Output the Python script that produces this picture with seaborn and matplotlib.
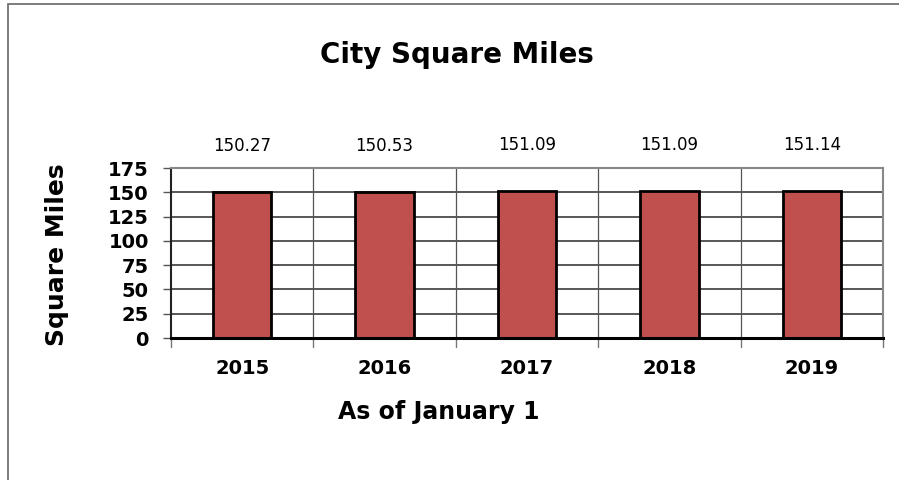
import matplotlib
matplotlib.use("Agg")
import matplotlib.pyplot as plt
import seaborn as sns
import pandas as pd
from matplotlib.patches import Rectangle

years = ["2015", "2016", "2017", "2018", "2019"]
square_miles = [150.27, 150.53, 151.09, 151.09, 151.14]
value_labels = ["150.27", "150.53", "151.09", "151.09", "151.14"]
y_ticks = [0, 25, 50, 75, 100, 125, 150, 175]

sns.set_theme(style="white")
plt.rcParams["font.family"] = ["DejaVu Sans"]
plt.rcParams.update({"text.color": "black", "axes.labelcolor": "black",
                     "xtick.color": "black", "ytick.color": "black",
                     "xtick.labelcolor": "black", "ytick.labelcolor": "black"})

df = pd.DataFrame({"year": years, "miles": square_miles})

fig = plt.figure(figsize=(8.99, 4.80), dpi=100)
ax = fig.add_axes([171 / 899, 1 - 338 / 480, (883 - 171) / 899, (338 - 168) / 480])

sns.barplot(data=df, x="year", y="miles", ax=ax, color="#C0504D",
            saturation=1, width=0.41, edgecolor="black", linewidth=2.0, zorder=3)

ax.set_ylim(0, 175)
ax.set_xlim(-0.5, len(years) - 0.5)
ax.set_yticks(y_ticks)
ax.set_yticklabels([str(t) for t in y_ticks], fontsize=14, fontweight="bold")

# horizontal grid lines
for t in y_ticks[1:-1]:
    ax.axhline(t, color="#2a2a2a", linewidth=1.1, zorder=1)
# vertical separators between categories
for b in range(1, len(years)):
    ax.axvline(b - 0.5, color="#555555", linewidth=0.9, zorder=1)

# category labels, with small ticks on the category boundaries
ax.set_xticks([i for i in range(len(years))])
ax.set_xticklabels(years, fontsize=14, fontweight="bold")
ax.tick_params(axis="x", length=0, pad=15)
for b in range(0, len(years) + 1):
    ax.plot([b - 0.5, b - 0.5], [0, -0.05], transform=ax.get_xaxis_transform(),
            color="#777777", linewidth=1.0, clip_on=False)
ax.tick_params(axis="y", length=6, width=1.0, color="#555555", pad=10, left=True)

for spine in ["top", "right"]:
    ax.spines[spine].set_color("#888888")
    ax.spines[spine].set_linewidth(1.5)
ax.spines["left"].set_color("#222222")
ax.spines["left"].set_linewidth(1.5)
ax.spines["bottom"].set_color("black")
ax.spines["bottom"].set_linewidth(2.2)
ax.spines["bottom"].set_zorder(4)

for i, (v, lab) in enumerate(zip(square_miles, value_labels)):
    ax.annotate(lab, xy=(i, v), xytext=(0, 37), textcoords="offset pixels",
                ha="center", va="bottom", fontsize=12, color="black")

ax.set_xlabel("As of January 1", fontsize=17, fontweight="bold", va="center")
ax.xaxis.set_label_coords((439 - 171) / 712, (338 - 412) / 170)
ax.set_ylabel("Square Miles", fontsize=18, fontweight="bold", va="center")
ax.yaxis.set_label_coords((57 - 171) / 712, (338 - 255) / 170)

fig.text(457 / 899, 1 - 55 / 480, "City Square Miles", ha="center", va="center",
         fontsize=20, fontweight="bold", color="black")

# outer chart frame (left and top edges visible)
fig.patches.append(Rectangle((8 / 899, -0.1), 1.2, 1 - 4 / 480 + 0.1,
                             transform=fig.transFigure, fill=False,
                             edgecolor="#666666", linewidth=1.2))

fig.savefig("out.png", dpi=100)
